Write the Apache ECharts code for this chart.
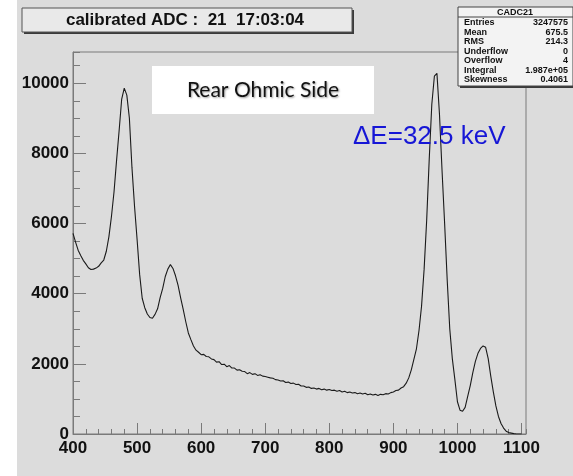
<!DOCTYPE html>
<html>
<head>
<meta charset="utf-8">
<script src="https://cdn.jsdelivr.net/npm/echarts@6.0.0/dist/echarts.min.js"></script>
<style>
  html, body { margin: 0; padding: 0; background: #ffffff; }
  #chart {
    width: 573px; height: 476px;
    background: linear-gradient(to right, #ffffff 17px, #dcdcdc 17px);
  }
</style>
</head>
<body>
<div id="chart"></div>
<script>
// Histogram bins (calibrated ADC, keV) and counts per bin
const adcBins = [];
for (let b = 400; b <= 1100; b += 4) adcBins.push(b);

const counts = [
  5720, 5470, 5240, 5090, 4950, 4850, 4740, 4690, 4700, 4730,
  4780, 4880, 4960, 5210, 5620, 6200, 6900, 7800, 8650, 9550,
  9860, 9660, 9000, 7600, 6500, 5550, 4550, 3870, 3600, 3420,
  3320, 3300, 3410, 3570, 3890, 4150, 4490, 4700, 4830, 4720,
  4510, 4240, 3880, 3550, 3200, 2880, 2690, 2510, 2390, 2330,
  2260, 2270, 2210, 2200, 2140, 2120, 2050, 2060, 1980, 1990,
  1920, 1950, 1880, 1880, 1820, 1830, 1790, 1780, 1720, 1750,
  1700, 1720, 1670, 1690, 1650, 1640, 1620, 1600, 1590, 1550,
  1540, 1510, 1520, 1470, 1480, 1440, 1450, 1410, 1420, 1370,
  1370, 1330, 1340, 1300, 1310, 1280, 1300, 1260, 1280, 1250,
  1270, 1240, 1250, 1220, 1240, 1200, 1220, 1180, 1200, 1170,
  1180, 1150, 1170, 1140, 1160, 1120, 1140, 1110, 1130, 1100,
  1130, 1120, 1150, 1140, 1180, 1200, 1240, 1250, 1310, 1350,
  1450, 1600, 1830, 2130, 2430, 2950, 3650, 4700, 6100, 7850,
  9400, 10200, 10280, 9100, 7500, 6000, 4400, 3000, 2150, 1550,
  920, 680, 650, 760, 1070, 1380, 1750, 2070, 2300, 2440,
  2510, 2470, 2150, 1650, 1200, 800, 500, 300, 170, 80,
  40, 25, 10, 0, 0, 0
];

// Statistics panel rows
const statsTitle = 'CADC21';
const statsNames = ['Entries', 'Mean', 'RMS', 'Underflow', 'Overflow', 'Integral', 'Skewness'];
const statsValues = ['3247575', '675.5', '214.3', '0', '4', '1.987e+05', '0.4061'];

const titleText = 'calibrated ADC :  21  17:03:04';
const noteText = 'Rear Ohmic Side';
const resolutionText = 'ΔE=32.5 keV';

const xMin = 400, xMax = 1107;
const yMin = 0, yMax = 10890;

const frameColor = '#7a7a7a';
const labelFont = { fontFamily: 'Liberation Sans', fontWeight: 'bold', fontSize: 17, color: '#111' };
const plainNumber = v => String(v);

const seriesData = adcBins.map((b, i) => [b, counts[i]]);

// Stats box graphics
const statsX = 458, statsY = 7, statsW = 115, statsH = 79;
const statsFont = { fontFamily: 'Liberation Sans', fontWeight: 'bold', fontSize: 9, fill: '#111', verticalAlign: 'middle' };
const statsGraphics = [
  { type: 'rect', shape: { x: statsX + 2, y: statsY + 2, width: statsW, height: statsH }, style: { fill: '#3a3a3a' }, z: 100 },
  { type: 'rect', shape: { x: statsX, y: statsY, width: statsW, height: statsH }, style: { fill: '#f3f3f3', stroke: '#444', lineWidth: 1 }, z: 101 },
  { type: 'line', shape: { x1: statsX, y1: 17, x2: statsX + statsW, y2: 17 }, style: { stroke: '#444', lineWidth: 1 }, z: 102 },
  { type: 'text', x: 515, y: 12.5, style: Object.assign({ text: statsTitle, align: 'center' }, statsFont), z: 102 }
];
statsNames.forEach((n, i) => {
  const yy = 23 + i * 9.5;
  statsGraphics.push({ type: 'text', x: 464, y: yy, style: Object.assign({ text: n, align: 'left' }, statsFont), z: 102 });
  statsGraphics.push({ type: 'text', x: 568, y: yy, style: Object.assign({ text: statsValues[i], align: 'right' }, statsFont), z: 102 });
});

const chart = echarts.init(document.getElementById('chart'), null, { renderer: 'canvas' });

chart.setOption({
  backgroundColor: 'transparent',
  animation: false,
  grid: {
    left: 73, top: 52, right: 47, bottom: 42,
    show: true, borderColor: frameColor, borderWidth: 1, backgroundColor: 'transparent'
  },
  xAxis: [
    {
      type: 'value', min: xMin, max: xMax, interval: 100, position: 'bottom',
      axisLine: { show: true, lineStyle: { color: frameColor, width: 1 } },
      axisTick: { show: true, inside: true, length: 11, lineStyle: { color: frameColor } },
      axisLabel: Object.assign({ margin: 6, showMaxLabel: false, formatter: plainNumber }, labelFont),
      splitLine: { show: false }
    },
    {
      type: 'value', min: xMin, max: xMax, interval: 20, position: 'bottom',
      axisLine: { show: false },
      axisTick: { show: true, inside: true, length: 5, lineStyle: { color: frameColor } },
      axisLabel: { show: false },
      splitLine: { show: false }
    }
  ],
  yAxis: [
    {
      type: 'value', min: yMin, max: yMax, interval: 2000, position: 'left',
      axisLine: { show: true, lineStyle: { color: frameColor, width: 1 } },
      axisTick: { show: true, inside: true, length: 13, lineStyle: { color: frameColor } },
      axisLabel: Object.assign({ margin: 4, showMaxLabel: false, formatter: plainNumber }, labelFont),
      splitLine: { show: false }
    },
    {
      type: 'value', min: yMin, max: yMax, interval: 500, position: 'left',
      axisLine: { show: false },
      axisTick: { show: true, inside: true, length: 7, lineStyle: { color: frameColor } },
      axisLabel: { show: false },
      splitLine: { show: false }
    }
  ],
  series: [{
    type: 'line',
    xAxisIndex: 0, yAxisIndex: 0,
    data: seriesData,
    showSymbol: false,
    lineStyle: { color: '#1a1a1a', width: 1.1 },
    z: 5
  }],
  graphic: [
    // title box with shadow
    { type: 'rect', shape: { x: 24, y: 10, width: 330, height: 24 }, style: { fill: '#3a3a3a' }, z: 100 },
    { type: 'rect', shape: { x: 22, y: 8, width: 330, height: 24 }, style: { fill: '#e9e9e9', stroke: '#555', lineWidth: 1 }, z: 101 },
    { type: 'text', x: 185, y: 20.5, style: { text: titleText, fontFamily: 'Liberation Sans', fontWeight: 'bold', fontSize: 17, fill: '#111', align: 'center', verticalAlign: 'middle' }, z: 102 },
    // white annotation box
    { type: 'rect', shape: { x: 152, y: 66, width: 222, height: 48 }, style: { fill: '#ffffff' }, z: 100 },
    { type: 'text', x: 263, y: 90, style: { text: noteText, fontFamily: 'Lato', fontSize: 21, fill: '#111', align: 'center', verticalAlign: 'middle', textShadowColor: 'rgba(0,0,0,0.4)', textShadowBlur: 2, textShadowOffsetX: 1, textShadowOffsetY: 1 }, z: 101 },
    // energy resolution note
    { type: 'text', x: 353, y: 137, style: { text: resolutionText, fontFamily: 'Liberation Sans', fontSize: 26, fill: '#1616d6', align: 'left', verticalAlign: 'middle' }, z: 101 }
  ].concat(statsGraphics)
});
</script>
</body>
</html>
